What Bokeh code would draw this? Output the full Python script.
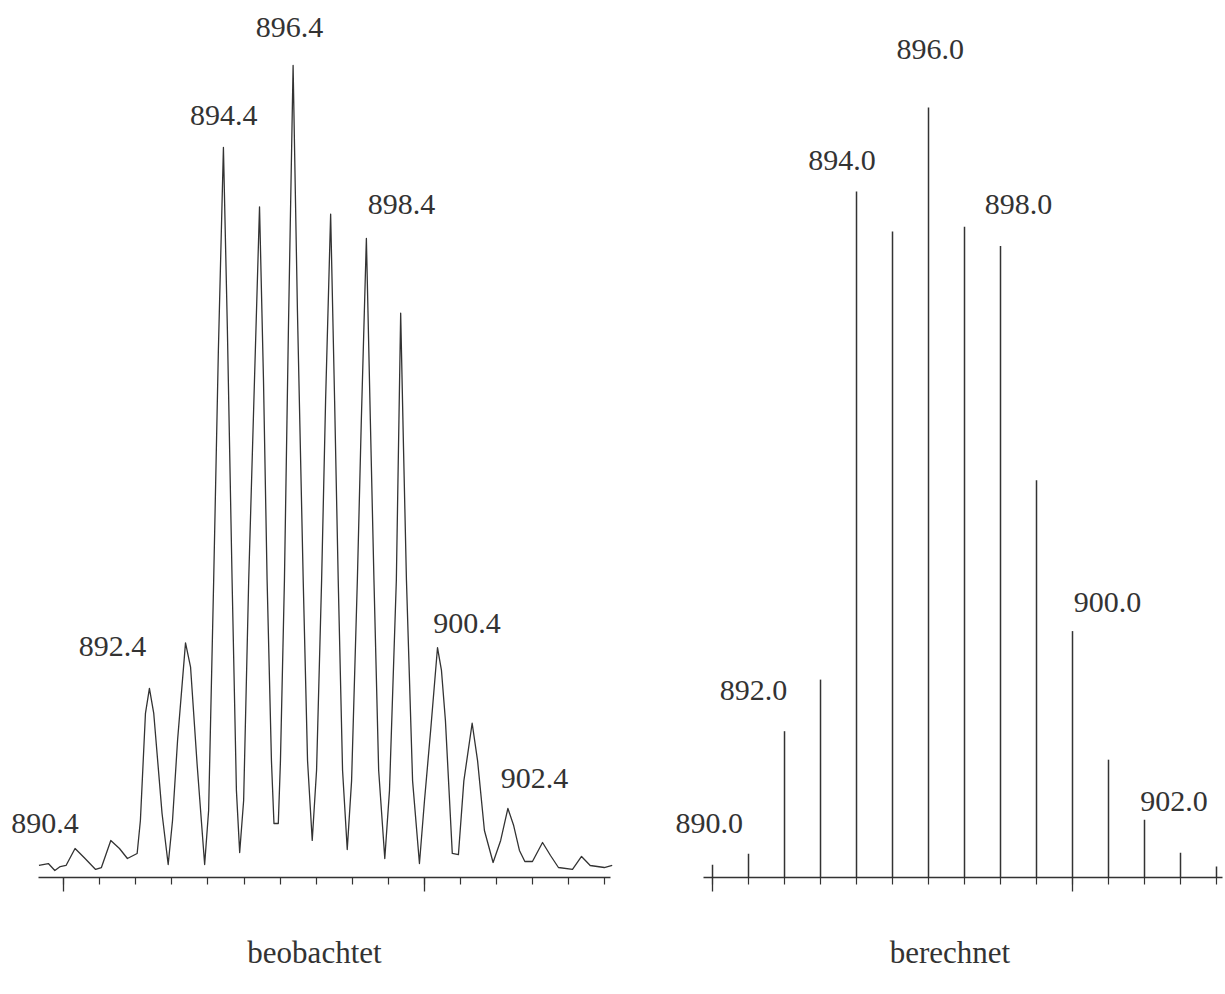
from bokeh.plotting import figure
from bokeh.layouts import row
from bokeh.models import (Range1d, LinearAxis, SingleIntervalTicker, CustomJSTickFormatter,
                          ColumnDataSource, LabelSet)
from bokeh.core.properties import value
from bokeh.embed import file_html
from bokeh.resources import INLINE

obs_mz = [889.32, 889.58, 889.76, 889.91, 890.07, 890.32, 890.57, 890.89, 891.05, 891.31,
          891.55, 891.77, 892.04, 892.13, 892.27, 892.38, 892.50, 892.73, 892.90, 893.02,
          893.16, 893.38, 893.52, 893.70, 893.91, 894.02, 894.16, 894.29, 894.43, 894.54,
          894.67, 894.79, 894.88, 894.99, 895.13, 895.29, 895.43, 895.54, 895.64, 895.76,
          895.83, 895.95, 896.01, 896.12, 896.23, 896.36, 896.48, 896.64, 896.76, 896.89,
          897.01, 897.15, 897.26, 897.40, 897.51, 897.61, 897.73, 897.86, 897.98, 898.14,
          898.25, 898.39, 898.50, 898.60, 898.73, 898.90, 899.03, 899.22, 899.34, 899.42,
          899.50, 899.67, 899.86, 900.00, 900.17, 900.36, 900.47, 900.58, 900.77, 900.94,
          901.09, 901.32, 901.47, 901.66, 901.90, 902.11, 902.31, 902.47, 902.63, 902.78,
          902.99, 903.27, 903.49, 903.71, 904.10, 904.35, 904.59, 904.98, 905.20]
obs_int = [1.48, 1.72, 0.86, 1.35, 1.48, 3.57, 2.46, 0.99, 1.23, 4.56,
           3.57, 2.34, 2.96, 7.02, 20.2, 23.3, 20.2, 7.88, 1.60, 7.02,
           16.9, 28.9, 25.9, 14.0, 1.60, 8.25, 36.6, 64.9, 89.9, 67.4,
           36.6, 10.7, 3.08, 9.48, 36.6, 61.2, 82.6, 61.2, 36.6, 14.4,
           6.65, 6.65, 14.4, 36.6, 67.4, 100.0, 69.8, 36.6, 14.4, 4.56,
           13.2, 36.6, 58.7, 81.7, 58.7, 36.6, 13.2, 3.45, 11.9, 36.6,
           56.3, 78.7, 56.3, 36.6, 13.2, 2.34, 10.7, 36.6, 69.5, 52.6,
           36.6, 11.9, 1.72, 9.48, 18.1, 28.3, 25.5, 19.3, 2.96, 2.83,
           11.9, 19.0, 14.4, 5.79, 1.85, 4.56, 8.50, 6.40, 3.33, 1.97,
           1.97, 4.31, 2.71, 1.23, 0.99, 2.59, 1.48, 1.23, 1.48]

obs_labels = ["890.4", "892.4", "894.4", "896.4", "898.4", "900.4", "902.4"]
obs_label_x = [889.49, 891.36, 894.44, 896.26, 899.36, 901.18, 903.05]
obs_label_y = [6.65, 28.5, 93.8, 104.7, 82.9, 31.3, 12.2]

# ---- calculated isotope pattern ----
calc_mz = [890, 891, 892, 893, 894, 895, 896, 897, 898, 899, 900, 901, 902, 903, 904]
calc_int = [1.65, 3.08, 19.0, 25.7, 89.1, 83.9, 100.0, 84.5, 82.0, 51.6, 32.0, 15.3, 7.49, 3.21, 1.43]

calc_labels = ["890.0", "892.0", "894.0", "896.0", "898.0", "900.0", "902.0"]
calc_label_x = [889.91, 891.14, 893.60, 896.05, 898.50, 900.97, 902.82]
calc_label_y = [7.05, 24.3, 93.1, 107.5, 87.4, 35.75, 9.87]

titles = ["beobachtet", "berechnet"]

FONT = "Liberation Serif"
INK = "#333333"
H = 992


def make_panel(width, xr, bounds, ymax, b_left, b_right, title):
    p = figure(width=width, height=H, x_range=Range1d(*xr), y_range=Range1d(0, ymax),
               output_backend="svg", toolbar_location=None,
               x_axis_type=None, y_axis_type=None,
               min_border_left=b_left, min_border_right=b_right,
               min_border_top=0, min_border_bottom=H - 877)
    p.outline_line_color = None
    p.background_fill_color = "white"
    p.border_fill_color = "white"
    ax = LinearAxis(ticker=SingleIntervalTicker(interval=10, num_minor_ticks=10),
                    formatter=CustomJSTickFormatter(code="return ''"), bounds=bounds)
    ax.axis_line_color = INK
    ax.axis_line_width = 1.4
    ax.major_tick_line_color = INK
    ax.major_tick_line_width = 1.3
    ax.minor_tick_line_color = INK
    ax.minor_tick_line_width = 1.2
    ax.major_tick_in = 0
    ax.major_tick_out = 14
    ax.minor_tick_in = 0
    ax.minor_tick_out = 7
    ax.major_label_standoff = 0
    ax.major_label_text_font_size = "10px"
    ax.axis_label = title
    ax.axis_label_text_font = FONT
    ax.axis_label_text_font_style = "normal"
    ax.axis_label_text_font_size = "31px"
    ax.axis_label_text_color = INK
    ax.axis_label_standoff = 43
    p.add_layout(ax, "below")
    return p


def add_labels(p, xs, ys, texts):
    src = ColumnDataSource(dict(x=xs, y=ys, text=texts))
    p.add_layout(LabelSet(x="x", y="y", text="text", source=src,
                          text_font=value(FONT), text_font_size=value("30px"),
                          text_color=INK, text_align="center", text_baseline="middle"))


# left panel: frame x 0..628 px, 890 at 63 px, 36.1 px per unit, axis line 38..610 px
left = make_panel(628, (888.2548, 905.651), (889.307, 905.152), 877 / 8.12, 0, 0, titles[0])
left.line(obs_mz, obs_int, line_color=INK, line_width=1.3, line_join="round")
add_labels(left, obs_label_x, obs_label_y, obs_labels)

# right panel: frame x 674..1225 px, 890 at 712 px, 36 px per unit, axis line 703..1222 px
right = make_panel(597, (888.944, 904.25), (889.75, 904.167), 877 / 7.7, 46, 0, titles[1])
right.segment(x0=calc_mz, y0=[0] * len(calc_mz), x1=calc_mz, y1=calc_int,
              line_color=INK, line_width=1.5)
add_labels(right, calc_label_x, calc_label_y, calc_labels)

layout = row(left, right)
open("out.html", "w").write(file_html(layout, INLINE))
